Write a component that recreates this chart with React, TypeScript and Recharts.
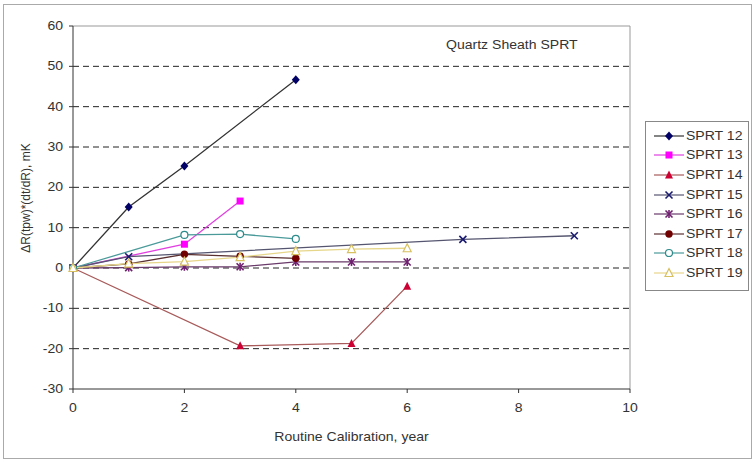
import React from 'react';
import { LineChart, Line, XAxis, YAxis, CartesianGrid, Legend, ReferenceLine } from 'recharts';

// values (mK vs year)
const sprt12X = [0, 1, 2, 4];
const sprt12Y = [0, 15.1, 25.3, 46.7];
const sprt13X = [0, 2, 3];
const sprt13Y = [0, 5.9, 16.6];
const sprt14X = [0, 3, 5, 6];
const sprt14Y = [0, -19.3, -18.7, -4.5];
const sprt15X = [0, 1, 7, 9];
const sprt15Y = [0, 2.8, 7.1, 8.0];
const sprt16X = [0, 1, 2, 3, 4, 5, 6];
const sprt16Y = [0, 0.1, 0.3, 0.3, 1.5, 1.5, 1.5];
const sprt17X = [0, 1, 2, 3, 4];
const sprt17Y = [0, 1.0, 3.4, 2.9, 2.4];
const sprt18X = [0, 2, 3, 4];
const sprt18Y = [0, 8.2, 8.4, 7.2];
const sprt19X = [0, 1, 2, 3, 4, 5, 6];
const sprt19Y = [0, 1.1, 1.6, 2.7, 4.2, 4.7, 4.9];

const xTicks = [0, 2, 4, 6, 8, 10];
const yTicks = [-30, -20, -10, 0, 10, 20, 30, 40, 50, 60];

const pts = (xs: number[], ys: number[]) => xs.map((x, i) => ({ x, y: ys[i] }));

type Shape = 'diamond' | 'square' | 'triangle' | 'x' | 'star' | 'circle' | 'ocircle' | 'otriangle';

const series: { name: string; data: { x: number; y: number }[]; line: string; mark: string; shape: Shape }[] = [
  { name: 'SPRT 12', data: pts(sprt12X, sprt12Y), line: '#333333', mark: '#000066', shape: 'diamond' },
  { name: 'SPRT 13', data: pts(sprt13X, sprt13Y), line: '#e040e0', mark: '#ff00ff', shape: 'square' },
  { name: 'SPRT 14', data: pts(sprt14X, sprt14Y), line: '#a85a5a', mark: '#cc0033', shape: 'triangle' },
  { name: 'SPRT 15', data: pts(sprt15X, sprt15Y), line: '#555570', mark: '#1a1a70', shape: 'x' },
  { name: 'SPRT 16', data: pts(sprt16X, sprt16Y), line: '#6a3a6a', mark: '#702070', shape: 'star' },
  { name: 'SPRT 17', data: pts(sprt17X, sprt17Y), line: '#5a3030', mark: '#700000', shape: 'circle' },
  { name: 'SPRT 18', data: pts(sprt18X, sprt18Y), line: '#4a9a9a', mark: '#2e8b8b', shape: 'ocircle' },
  { name: 'SPRT 19', data: pts(sprt19X, sprt19Y), line: '#e6d68a', mark: '#d8c060', shape: 'otriangle' },
];

// the source image is stretched sideways a bit, so text gets widened to match
const SX = 1.17;
const font = '"Liberation Sans", Arial, sans-serif';

function Marker({ cx, cy, shape, color }: { cx: number; cy: number; shape: Shape; color: string }) {
  const r = 4;
  switch (shape) {
    case 'diamond':
      return <polygon points={`${cx},${cy - r - 0.5} ${cx + r},${cy} ${cx},${cy + r + 0.5} ${cx - r},${cy}`} fill={color} />;
    case 'square':
      return <rect x={cx - r + 0.5} y={cy - r + 0.5} width={r * 2 - 1} height={r * 2 - 1} fill={color} />;
    case 'triangle':
      return <polygon points={`${cx},${cy - r - 0.5} ${cx + r},${cy + r - 0.5} ${cx - r},${cy + r - 0.5}`} fill={color} />;
    case 'otriangle':
      return <polygon points={`${cx},${cy - r - 0.5} ${cx + r},${cy + r - 0.5} ${cx - r},${cy + r - 0.5}`} fill="#fff" stroke={color} strokeWidth={1.2} />;
    case 'x':
      return (
        <g stroke={color} strokeWidth={1.6}>
          <line x1={cx - r + 0.5} y1={cy - r + 0.5} x2={cx + r - 0.5} y2={cy + r - 0.5} />
          <line x1={cx - r + 0.5} y1={cy + r - 0.5} x2={cx + r - 0.5} y2={cy - r + 0.5} />
        </g>
      );
    case 'star':
      return (
        <g stroke={color} strokeWidth={1.6}>
          <line x1={cx - r + 0.5} y1={cy - r + 0.5} x2={cx + r - 0.5} y2={cy + r - 0.5} />
          <line x1={cx - r + 0.5} y1={cy + r - 0.5} x2={cx + r - 0.5} y2={cy - r + 0.5} />
          <line x1={cx} y1={cy - r} x2={cx} y2={cy + r} />
        </g>
      );
    case 'circle':
      return <circle cx={cx} cy={cy} r={r - 0.3} fill={color} />;
    case 'ocircle':
      return <circle cx={cx} cy={cy} r={r - 0.5} fill="#fff" stroke={color} strokeWidth={1.2} />;
  }
  return null;
}

function XTick({ x, y, payload }: any) {
  return (
    <g transform={`translate(${x},${y}) scale(${SX},1)`}>
      <text x={0} y={13} textAnchor="middle" dominantBaseline="central" fontSize={12} fill="#333" fontFamily={font}>
        {payload.value}
      </text>
    </g>
  );
}

function YTick({ x, y, payload }: any) {
  return (
    <g transform={`translate(${x},${y}) scale(${SX},1)`}>
      <text x={0} y={0} textAnchor="end" dominantBaseline="central" fontSize={12} fill="#333" fontFamily={font}>
        {payload.value}
      </text>
    </g>
  );
}

function LegendBox() {
  return (
    <div style={{ border: '1px solid #888', background: '#fff', padding: '4px 0 4px 8px', fontFamily: font, fontSize: 12, color: '#333', boxSizing: 'border-box', width: 104, height: 170 }}>
      {series.map((s) => (
        <div key={s.name} style={{ display: 'flex', alignItems: 'center', height: 19.6 }}>
          <svg width={30} height={12} style={{ marginRight: 2, flex: 'none' }}>
            <line x1={0} y1={6} x2={30} y2={6} stroke={s.line} strokeWidth={1.2} />
            <Marker cx={15} cy={6} shape={s.shape} color={s.mark} />
          </svg>
          <span style={{ display: 'inline-block', transform: `scaleX(${SX})`, transformOrigin: 'left center', whiteSpace: 'nowrap' }}>{s.name}</span>
        </div>
      ))}
    </div>
  );
}

export default function App() {
  return (
    <div style={{ position: 'absolute', left: 0, top: 0, width: 755, height: 465, background: '#fff' }}>
      <div style={{ position: 'absolute', left: 3, top: 4, width: 747, height: 453, border: '1px solid #aaa' }} />
      <div style={{ position: 'absolute', left: 446, top: 38, fontFamily: font, fontSize: 12, color: '#333', transform: `scaleX(${SX})`, transformOrigin: 'left center', whiteSpace: 'nowrap' }}>
        Quartz Sheath SPRT
      </div>
      <LineChart width={755} height={465} margin={{ top: 26, right: 125, bottom: 18, left: 10 }} style={{ position: 'absolute', left: 0, top: 0 }}>
        <CartesianGrid vertical={false} horizontalValues={[-20, -10, 0, 10, 20, 30, 40, 50]} stroke="#222" strokeDasharray="6 4" />
        <ReferenceLine y={60} stroke="#999" />
        <ReferenceLine x={10} stroke="#999" />
        <XAxis
          type="number"
          dataKey="x"
          domain={[0, 10]}
          ticks={xTicks}
          allowDuplicatedCategory={false}
          height={58}
          stroke="#333"
          tick={<XTick />}
          tickSize={4}
          label={{
            content: () => (
              <g transform={`translate(351.5,437) scale(${SX},1)`}>
                <text x={0} y={0} textAnchor="middle" dominantBaseline="central" fontSize={12} fill="#333" fontFamily={font}>
                  Routine Calibration, year
                </text>
              </g>
            ),
          }}
        />
        <YAxis
          type="number"
          domain={[-30, 60]}
          ticks={yTicks}
          width={63}
          stroke="#333"
          tick={<YTick />}
          tickSize={4}
          tickMargin={6}
          interval={0}
          label={{
            content: () => (
              <text x={26} y={198} transform="rotate(-90 26 198)" textAnchor="middle" dominantBaseline="central" fontSize={12} fill="#333" fontFamily={font}>
                ΔR(tpw)*(dt/dR), mK
              </text>
            ),
          }}
        />
        <Legend layout="vertical" align="center" verticalAlign="middle" content={() => <LegendBox />} wrapperStyle={{ left: 645, top: 121, width: 104 }} />
        {series.map((s) => (
          <Line
            key={s.name}
            name={s.name}
            data={s.data}
            dataKey="y"
            type="linear"
            stroke={s.line}
            strokeWidth={1.3}
            isAnimationActive={false}
            dot={(p: any) => <Marker key={`${s.name}-${p.index}`} cx={p.cx} cy={p.cy} shape={s.shape} color={s.mark} />}
            activeDot={false}
          />
        ))}
      </LineChart>
    </div>
  );
}
